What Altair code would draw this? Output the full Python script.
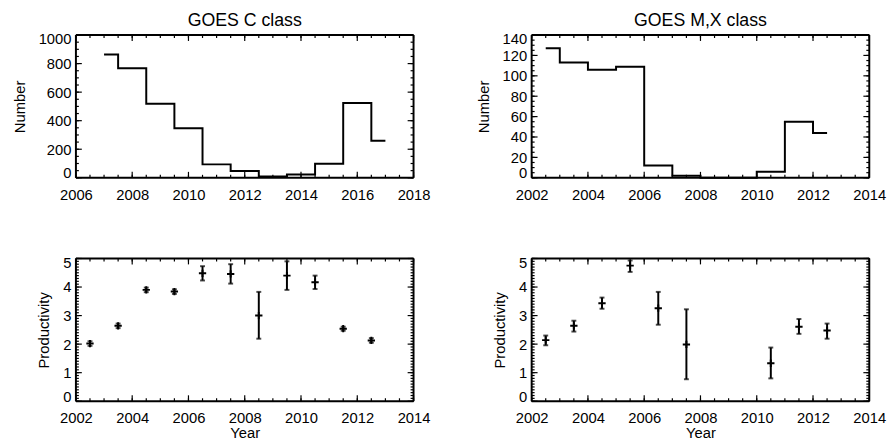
import altair as alt
import pandas as pd

FONT = "Liberation Sans"

# ---- data ----
c_years = [2007, 2008, 2009, 2010, 2011, 2012, 2013, 2014, 2015, 2016, 2017]
c_counts = [864, 767, 519, 347, 94, 48, 9, 23, 99, 524, 260]

mx_years = [2002.5, 2003.5, 2004.5, 2005.5, 2006.5, 2007.5, 2008.5, 2009.5, 2010.5, 2011.5, 2012.5]
mx_counts = [127, 113, 106, 109, 12, 2, 0, 0, 6, 55, 44]

pc_years = [2002.5, 2003.5, 2004.5, 2005.5, 2006.5, 2007.5, 2008.5, 2009.5, 2010.5, 2011.5, 2012.5]
pc_val = [2.02, 2.64, 3.90, 3.84, 4.48, 4.46, 3.00, 4.40, 4.17, 2.54, 2.13]
pc_lo = [1.94, 2.56, 3.82, 3.76, 4.23, 4.12, 2.19, 3.90, 3.93, 2.47, 2.05]
pc_hi = [2.10, 2.72, 3.98, 3.92, 4.73, 4.80, 3.83, 4.90, 4.40, 2.61, 2.21]

pm_years = [2002.5, 2003.5, 2004.5, 2005.5, 2006.5, 2007.5, 2010.5, 2011.5, 2012.5]
pm_val = [2.14, 2.64, 3.43, 4.75, 3.26, 1.99, 1.33, 2.61, 2.48]
pm_lo = [1.96, 2.44, 3.24, 4.53, 2.68, 0.77, 0.80, 2.36, 2.19]
pm_hi = [2.30, 2.82, 3.63, 4.93, 3.83, 3.22, 1.88, 2.88, 2.72]

# axis tick values
x_major_c = [2006, 2008, 2010, 2012, 2014, 2016, 2018]
x_major_b = [2002, 2004, 2006, 2008, 2010, 2012, 2014]
y_major_c = [0, 200, 400, 600, 800, 1000]
y_major_mx = [0, 20, 40, 60, 80, 100, 120, 140]
y_major_p = [0, 1, 2, 3, 4, 5]

W, H = 343, 145
MAJ, MIN = 6, 3


def minor(lo, hi, step):
    n = int(round((hi - lo) / step))
    return [round(lo + i * step, 6) for i in range(n + 1)]


def frame_layers():
    one = pd.DataFrame({"f": [0]})
    base = alt.Chart(one).mark_rule(color="black", strokeWidth=2)
    return [
        base.encode(x=alt.value(0), x2=alt.value(W), y=alt.value(0)),
        base.encode(x=alt.value(0), x2=alt.value(W), y=alt.value(H)),
        base.encode(x=alt.value(0), y=alt.value(0), y2=alt.value(H)),
        base.encode(x=alt.value(W), y=alt.value(0), y2=alt.value(H)),
    ]


def tick_layers(xs, ys, xax, yax, xf, yf, xmaj, xmin, ymaj, ymin):
    """Inward ticks on all four sides, placed through the panel's own scales."""
    layers = []
    for vals, ln in ((xmaj, MAJ), (xmin, MIN)):
        df = pd.DataFrame({xf: vals})
        base = alt.Chart(df).mark_rule(color="black", strokeWidth=1.2)
        layers.append(base.encode(x=alt.X(f"{xf}:Q", scale=xs, axis=xax),
                                  y=alt.value(H), y2=alt.value(H - ln)))
        layers.append(base.encode(x=alt.X(f"{xf}:Q", scale=xs, axis=xax),
                                  y=alt.value(0), y2=alt.value(ln)))
    for vals, ln in ((ymaj, MAJ), (ymin, MIN)):
        df = pd.DataFrame({yf: vals})
        base = alt.Chart(df).mark_rule(color="black", strokeWidth=1.2)
        layers.append(base.encode(y=alt.Y(f"{yf}:Q", scale=ys, axis=yax),
                                  x=alt.value(0), x2=alt.value(ln)))
        layers.append(base.encode(y=alt.Y(f"{yf}:Q", scale=ys, axis=yax),
                                  x=alt.value(W), x2=alt.value(W - ln)))
    return layers


def xaxis(vals, title):
    kw = dict(values=vals, format="d", labelFlush=False, labelOverlap=False, ticks=False,
              domain=False, grid=False, labelFontSize=15, labelPadding=10, labelFont=FONT,
              labelColor="black", titleFont=FONT, titleFontSize=15,
              titleFontWeight="normal", titleColor="black", titlePadding=0)
    kw["title"] = title if title else None
    return alt.Axis(**kw)


def yaxis(vals, title):
    return alt.Axis(values=vals, format="d", labelFlush=True, labelFlushOffset=3,
                    labelOverlap=False, ticks=False, domain=False, grid=False,
                    labelFontSize=15, labelPadding=5, labelFont=FONT,
                    labelColor="black", title=title, titleFont=FONT, titleFontSize=15,
                    titleFontWeight="normal", titleColor="black", titlePadding=11)


def step_panel(years, counts, xdom, ydom, xmaj, ymaj, ystep, title):
    xs = alt.Scale(domain=xdom, nice=False, zero=False)
    ys = alt.Scale(domain=ydom, nice=False, zero=False)
    xax = xaxis(xmaj, None)
    yax = yaxis(ymaj, "Number")
    df = pd.DataFrame({"year": years, "n": counts})
    line = alt.Chart(df).mark_line(color="black", strokeWidth=2, interpolate="step").encode(
        x=alt.X("year:Q", scale=xs, axis=xax),
        y=alt.Y("n:Q", scale=ys, axis=yax),
    )
    ticks = tick_layers(xs, ys, xax, yax, "year", "n", xmaj, minor(xdom[0], xdom[1], 0.5),
                        ymaj, minor(ydom[0], ydom[1], ystep))
    return alt.layer(line, *ticks, *frame_layers()).properties(
        width=W, height=H,
        title=alt.TitleParams(title, fontSize=18, fontWeight="normal", font=FONT,
                              color="black", anchor="middle", offset=2),
    )


def err_panel(years, val, lo, hi, xdom, xmaj):
    xs = alt.Scale(domain=xdom, nice=False, zero=False)
    ys = alt.Scale(domain=[0, 5], nice=False, zero=False)
    xax = xaxis(xmaj, "Year")
    yax = yaxis(y_major_p, "Productivity")
    df = pd.DataFrame({"year": years, "p": val, "lo": lo, "hi": hi})
    base = alt.Chart(df)
    bars = base.mark_rule(color="black", strokeWidth=2).encode(
        x=alt.X("year:Q", scale=xs, axis=xax),
        y=alt.Y("lo:Q", scale=ys, axis=yax),
        y2="hi:Q",
    )
    cap_lo = base.mark_tick(color="black", orient="horizontal", size=5, thickness=2).encode(
        x=alt.X("year:Q", scale=xs, axis=xax), y=alt.Y("lo:Q", scale=ys, axis=yax))
    cap_hi = base.mark_tick(color="black", orient="horizontal", size=5, thickness=2).encode(
        x=alt.X("year:Q", scale=xs, axis=xax), y=alt.Y("hi:Q", scale=ys, axis=yax))
    cross = base.mark_point(shape="M-1,0L1,0M0,-1L0,1", size=55, color="black",
                            strokeWidth=2, filled=False, opacity=1).encode(
        x=alt.X("year:Q", scale=xs, axis=xax), y=alt.Y("p:Q", scale=ys, axis=yax))
    ticks = tick_layers(xs, ys, xax, yax, "year", "lo", xmaj, minor(xdom[0], xdom[1], 0.5),
                        y_major_p, minor(0, 5, 0.1))
    return alt.layer(bars, cap_lo, cap_hi, cross, *ticks, *frame_layers()).properties(
        width=W, height=H)


p1 = step_panel(c_years, c_counts, [2006, 2018], [0, 1000], x_major_c, y_major_c, 50,
                "GOES C class")
p2 = step_panel(mx_years, mx_counts, [2002, 2014], [0, 140], x_major_b, y_major_mx, 5,
                "GOES M,X class")
p3 = err_panel(pc_years, pc_val, pc_lo, pc_hi, [2002, 2014], x_major_b)
p4 = err_panel(pm_years, pm_val, pm_lo, pm_hi, [2002, 2014], x_major_b)

chart = alt.concat(p1, p2, p3, p4, columns=2, spacing={"row": 52, "column": 45}).properties(
    padding={"left": 4, "top": 0, "right": 0, "bottom": 0}
).configure(
    font=FONT, background="white",
    view=alt.ViewConfig(stroke="transparent"),
)

chart.save("out.html", embed_options={"renderer": "svg", "actions": False})
